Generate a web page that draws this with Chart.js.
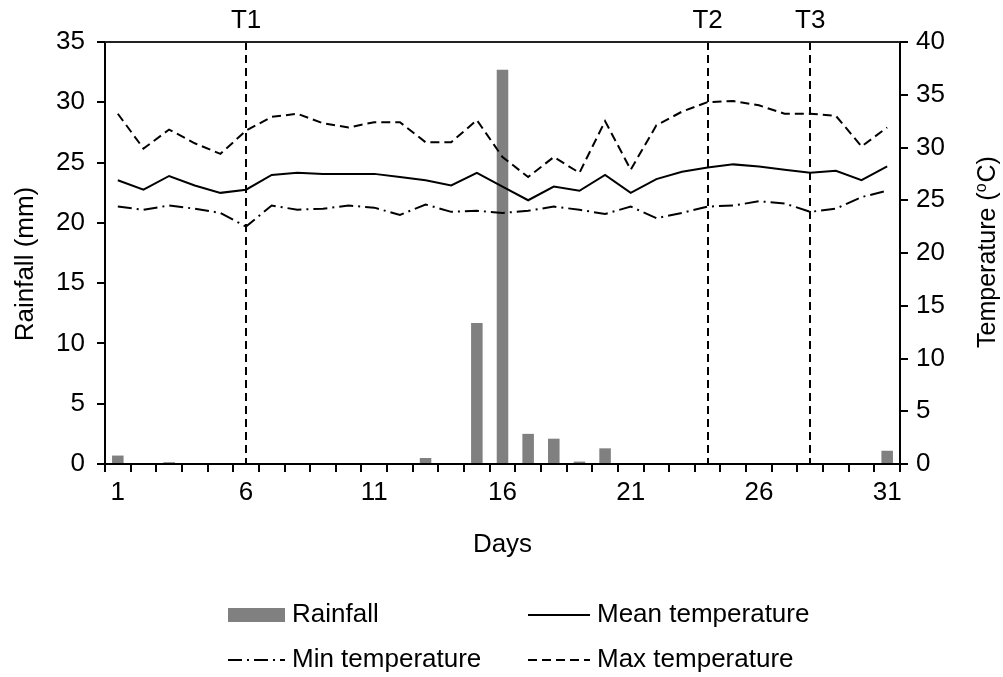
<!DOCTYPE html>
<html>
<head>
<meta charset="utf-8">
<title>Rainfall and temperature</title>
<script src="https://cdn.jsdelivr.net/npm/chart.js@4.4.1/dist/chart.umd.min.js"></script>
<style>
  html, body { margin: 0; padding: 0; background: #fff; }
  #wrap { width: 1003px; height: 677px; }
</style>
</head>
<body>
<div id="wrap"><canvas id="chart" width="1003" height="677"></canvas></div>
<script>
'use strict'

// ------------- data ------------- //
var days = [1, 2, 3, 4, 5, 6, 7, 8, 9, 10, 11, 12, 13, 14, 15, 16,
	17, 18, 19, 20, 21, 22, 23, 24, 25, 26, 27, 28, 29, 30, 31];

var rainfall = [0.7, 0, 0.15, 0, 0, 0, 0, 0, 0, 0, 0, 0, 0.5, 0, 11.7, 32.7,
	2.5, 2.1, 0.2, 1.3, 0, 0, 0, 0, 0, 0, 0, 0, 0, 0, 1.1];

var meanTemp = [26.9, 26.0, 27.3, 26.4, 25.7, 26.0, 27.4, 27.6, 27.5, 27.5, 27.5, 27.2, 26.9, 26.4, 27.6, 26.3,
	25.0, 26.3, 25.9, 27.4, 25.7, 27.0, 27.7, 28.1, 28.4, 28.2, 27.9, 27.6, 27.8, 26.9, 28.2];

var minTemp = [24.4, 24.1, 24.5, 24.2, 23.8, 22.5, 24.5, 24.1, 24.2, 24.5, 24.3, 23.6, 24.6, 23.9, 24.0, 23.8,
	24.0, 24.4, 24.1, 23.7, 24.4, 23.3, 23.8, 24.4, 24.5, 24.9, 24.7, 23.9, 24.2, 25.3, 25.9];

var maxTemp = [33.2, 29.9, 31.7, 30.4, 29.4, 31.6, 32.9, 33.2, 32.3, 31.9, 32.4, 32.4, 30.5, 30.5, 32.6, 29.1,
	27.2, 29.1, 27.6, 32.5, 27.9, 32.1, 33.4, 34.3, 34.4, 34.0, 33.2, 33.2, 33.0, 30.1, 31.9];

var dayLabels = [1, 6, 11, 16, 21, 26, 31];

var markerDays = [6, 24, 28];
var markerNames = ['T1', 'T2', 'T3'];

// ------------- styles ------------- //
var FONT = '"Liberation Sans", Arial, sans-serif';
var TXT = '#000';
var DASH_MAX = [9, 5];
var DASH_MIN = [14, 5, 2, 5];

Chart.defaults.font.family = FONT;
Chart.defaults.font.size = 26;
Chart.defaults.color = TXT;

// dashed T lines, top frame, axis titles and the legend
var extras = {
	id: 'extras',
	beforeDatasetsDraw: function(chart) {
		var c = chart.ctx;
		var a = chart.chartArea;
		var xs = chart.scales.x;
		c.save();
		c.strokeStyle = '#000';
		c.lineWidth = 2;
		c.setLineDash([8, 5]);
		for (var k = 0; k < markerDays.length; k++) {
			var px = Math.round(xs.getPixelForValue(days.indexOf(markerDays[k])));
			c.beginPath();
			c.moveTo(px, a.top);
			c.lineTo(px, a.bottom);
			c.stroke();
		}
		c.setLineDash([]);
		c.font = '26px ' + FONT;
		c.fillStyle = TXT;
		c.textAlign = 'center';
		c.textBaseline = 'middle';
		for (var k = 0; k < markerDays.length; k++) {
			var px = xs.getPixelForValue(days.indexOf(markerDays[k]));
			c.fillText(markerNames[k], px, 21);
		}
		c.restore();
	},
	afterDraw: function(chart) {
		var c = chart.ctx;
		var a = chart.chartArea;
		c.save();
		// top frame
		c.strokeStyle = '#222';
		c.lineWidth = 2;
		c.beginPath();
		c.moveTo(a.left, a.top);
		c.lineTo(a.right, a.top);
		c.stroke();
		c.restore();

		// left title
		c.save();
		c.translate(26, 264);
		c.rotate(-Math.PI / 2);
		c.font = '26px ' + FONT;
		c.fillStyle = TXT;
		c.textAlign = 'center';
		c.textBaseline = 'middle';
		c.fillText('Rainfall (mm)', 0, 0);
		c.restore();

		// right title, reading bottom to top, small raised o
		c.save();
		c.translate(988, 252);
		c.rotate(-Math.PI / 2);
		c.fillStyle = TXT;
		c.textBaseline = 'middle';
		c.textAlign = 'left';
		var big = '25px ' + FONT, small = '16px ' + FONT;
		c.font = big;
		var w1 = c.measureText('Temperature (').width;
		var w3 = c.measureText('C)').width;
		c.font = small;
		var w2 = c.measureText('o').width + 1;
		var x0 = -(w1 + w2 + w3) / 2;
		c.font = big;
		c.fillText('Temperature (', x0, 0);
		c.font = small;
		c.fillText('o', x0 + w1, -6);
		c.font = big;
		c.fillText('C)', x0 + w1 + w2, 0);
		c.restore();

		// legend, two columns
		var ds = chart.data.datasets;
		var spots = [[228, 615], [528, 615], [228, 660], [528, 660]];
		c.save();
		c.font = '26px ' + FONT;
		c.textAlign = 'left';
		c.textBaseline = 'middle';
		for (var j = 0; j < ds.length; j++) {
			var d = ds[j];
			var x = spots[j][0], y = spots[j][1];
			var w = x > 400 ? 62 : 57;
			if (d.type === 'bar') {
				c.fillStyle = d.backgroundColor;
				c.fillRect(x, y - 7, w, 14);
			} else {
				c.strokeStyle = d.borderColor;
				c.lineWidth = 2;
				c.setLineDash(d.borderDash || []);
				c.beginPath();
				c.moveTo(x, y);
				c.lineTo(x + w, y);
				c.stroke();
				c.setLineDash([]);
			}
			c.fillStyle = TXT;
			c.fillText(d.label, x + w + 7, y);
		}
		c.restore();
	}
};

window.onload = function() {
	var ctx = document.getElementById('chart').getContext('2d');

	var myChart = new Chart(ctx, {
		data: {
			labels: days,
			datasets: [{
				type: 'bar',
				label: 'Rainfall',
				data: rainfall,
				yAxisID: 'y',
				backgroundColor: '#808080',
				barPercentage: 0.45,
				categoryPercentage: 1.0,
				order: 2
			}, {
				type: 'line',
				label: 'Mean temperature',
				data: meanTemp,
				yAxisID: 'y1',
				borderColor: '#000',
				borderWidth: 2,
				borderDash: [],
				pointRadius: 0,
				tension: 0,
				fill: false,
				order: 1
			}, {
				type: 'line',
				label: 'Min temperature',
				data: minTemp,
				yAxisID: 'y1',
				borderColor: '#000',
				borderWidth: 2,
				borderDash: DASH_MIN,
				pointRadius: 0,
				tension: 0,
				fill: false,
				order: 1
			}, {
				type: 'line',
				label: 'Max temperature',
				data: maxTemp,
				yAxisID: 'y1',
				borderColor: '#000',
				borderWidth: 2,
				borderDash: DASH_MAX,
				pointRadius: 0,
				tension: 0,
				fill: false,
				order: 1
			}]
		},
		options: {
			responsive: false,
			animation: false,
			layout: { padding: { top: 42, bottom: 117, left: 0, right: 0 } },
			plugins: {
				legend: { display: false },
				tooltip: { enabled: false }
			},
			scales: {
				x: {
					type: 'category',
					offset: true,
					grid: {
						offset: true,
						drawOnChartArea: false,
						drawTicks: true,
						tickLength: 8,
						color: '#000',
						lineWidth: 2
					},
					border: { color: '#000', width: 2 },
					ticks: {
						autoSkip: false,
						maxRotation: 0,
						padding: 5,
						callback: function(val, idx) {
							var d = days[idx];
							return dayLabels.indexOf(d) >= 0 ? String(d) : '';
						}
					},
					title: { display: true, text: 'Days', padding: { top: 4, bottom: 0 } },
					afterFit: function(scale) { scale.height = 96; }
				},
				y: {
					position: 'left',
					min: 0,
					max: 35,
					grid: { drawOnChartArea: false, tickLength: 8, color: '#000', lineWidth: 2 },
					border: { color: '#000', width: 2 },
					ticks: { stepSize: 5, padding: 12 },
					afterFit: function(scale) { scale.width = 105; }
				},
				y1: {
					position: 'right',
					min: 0,
					max: 40,
					grid: { drawOnChartArea: false, tickLength: 8, color: '#000', lineWidth: 2 },
					border: { color: '#000', width: 2 },
					ticks: { stepSize: 5, padding: 8 },
					afterFit: function(scale) { scale.width = 103; }
				}
			}
		},
		plugins: [extras]
	});
};
</script>
</body>
</html>
